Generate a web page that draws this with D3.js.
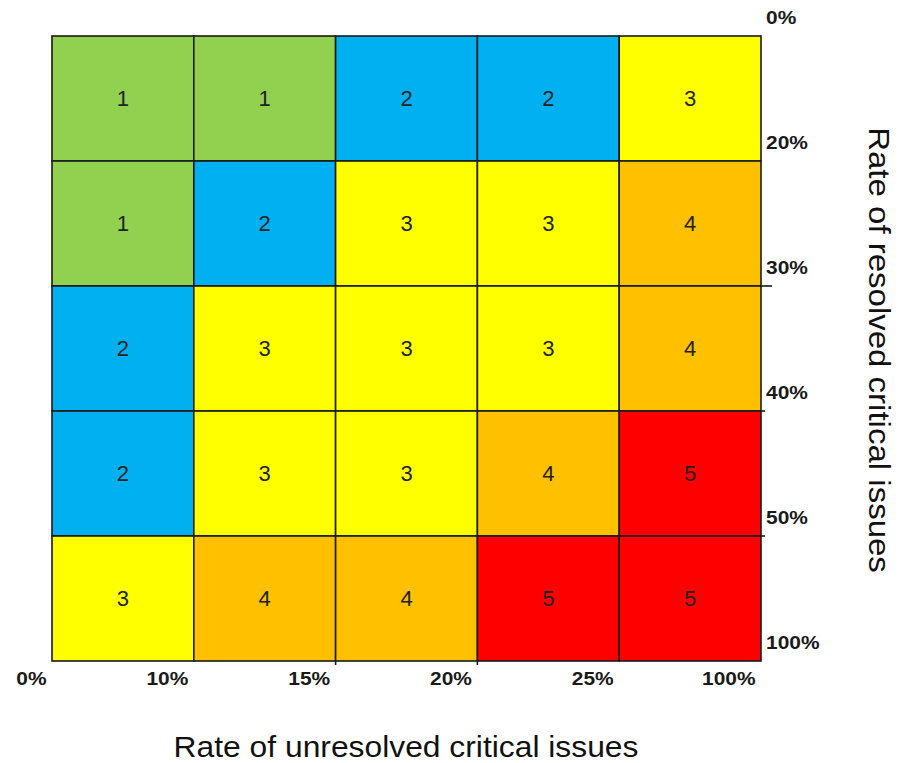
<!DOCTYPE html>
<html>
<head>
<meta charset="utf-8">
<script src="https://cdn.jsdelivr.net/npm/d3@7"></script>
<style>
  body { margin: 0; background: #fff; }
  svg { font-family: Arial, 'Liberation Sans', sans-serif; }
</style>
</head>
<body>
<svg id="chart"></svg>
<script>
// boundaries of the columns (unresolved rate) and rows (resolved rate)
const xBounds = ['0%', '10%', '15%', '20%', '25%', '100%']
const yBounds = ['0%', '20%', '30%', '40%', '50%', '100%']

// risk level per cell, rows top to bottom
const row1 = [1, 1, 2, 2, 3]
const row2 = [1, 2, 3, 3, 4]
const row3 = [2, 3, 3, 3, 4]
const row4 = [2, 3, 3, 4, 5]
const row5 = [3, 4, 4, 5, 5]
const levels = [row1, row2, row3, row4, row5]

const levelKeys = [1, 2, 3, 4, 5]
const levelColors = ['#92D050', '#00B0F0', '#FFFF00', '#FFC000', '#FF0000']

// boundaries that carry a little tick mark outside the grid
const xTicked = ['15%', '20%']
const yTicked = ['30%', '40%', '50%']

const xTitle = 'Rate of unresolved critical issues'
const yTitle = 'Rate of resolved critical issues'

const width = 903, height = 763
const margin = {top: 36, right: 142, bottom: 102, left: 52}

// the reference text looks a bit wider than plain Arial
const stretch = 1.13

const svg = d3.select('#chart')
	.attr('width', width)
	.attr('height', height)

const x = d3.scalePoint()
	.domain(xBounds)
	.range([margin.left, width - margin.right])

const y = d3.scalePoint()
	.domain(yBounds)
	.range([margin.top, height - margin.bottom])

const color = d3.scaleOrdinal()
	.domain(levelKeys)
	.range(levelColors)

function widen(sel, k) {
	sel.each(function() {
		const w = this.getComputedTextLength()
		d3.select(this)
			.attr('textLength', w * k)
			.attr('lengthAdjust', 'spacingAndGlyphs')
	})
}

// flatten the grid into cells
const cells = []
levels.forEach((row, r) => {
	row.forEach((v, c) => {
		cells.push({r: r, c: c, v: v})
	})
})

// small ticks sticking out of the grid
svg.append('g')
	.selectAll('line')
	.data(xTicked)
	.join('line')
		.attr('x1', d => x(d))
		.attr('x2', d => x(d))
		.attr('y1', height - margin.bottom)
		.attr('y2', height - margin.bottom + 4)
		.attr('stroke', '#1a1a1a')
		.attr('stroke-width', 1.6)

svg.append('g')
	.selectAll('line')
	.data(yTicked)
	.join('line')
		.attr('x1', width - margin.right)
		.attr('x2', (d, i) => width - margin.right + (i === 0 ? 11 : 4))
		.attr('y1', d => y(d))
		.attr('y2', d => y(d))
		.attr('stroke', '#1a1a1a')
		.attr('stroke-width', 1.6)

const cellG = svg.append('g')
	.selectAll('g')
	.data(cells)
	.join('g')

cellG.append('rect')
	.attr('x', d => x(xBounds[d.c]))
	.attr('y', d => y(yBounds[d.r]))
	.attr('width', d => x(xBounds[d.c + 1]) - x(xBounds[d.c]))
	.attr('height', d => y(yBounds[d.r + 1]) - y(yBounds[d.r]))
	.attr('fill', d => color(d.v))
	.attr('stroke', '#1a1a1a')
	.attr('stroke-width', 1.6)

cellG.append('text')
	.attr('x', d => (x(xBounds[d.c]) + x(xBounds[d.c + 1])) / 2)
	.attr('y', d => (y(yBounds[d.r]) + y(yBounds[d.r + 1])) / 2)
	.attr('dy', '0.36em')
	.attr('text-anchor', 'middle')
	.attr('font-size', 22)
	.attr('fill', '#222')
	.text(d => d.v)

// bottom axis: labels sit left of each boundary
const xAxis = svg.append('g')
	.attr('transform', 'translate(0,' + (height - margin.bottom) + ')')
	.call(d3.axisBottom(x).tickSize(0).tickPadding(0))
xAxis.select('.domain').remove()
xAxis.selectAll('text')
	.attr('text-anchor', 'end')
	.attr('dx', -6)
	.attr('dy', 0)
	.attr('y', 24)
	.attr('font-size', 18.5)
	.attr('font-weight', 'bold')
	.attr('font-family', 'Arial, Liberation Sans, sans-serif')
	.attr('fill', '#1a1a1a')
	.call(widen, stretch)

// right axis: labels sit above each boundary
const yAxis = svg.append('g')
	.attr('transform', 'translate(' + (width - margin.right) + ',0)')
	.call(d3.axisRight(y).tickSize(0).tickPadding(0))
yAxis.select('.domain').remove()
yAxis.selectAll('text')
	.attr('text-anchor', 'start')
	.attr('x', 5)
	.attr('dy', -13)
	.attr('font-size', 18.5)
	.attr('font-weight', 'bold')
	.attr('font-family', 'Arial, Liberation Sans, sans-serif')
	.attr('fill', '#1a1a1a')
	.call(widen, stretch)

// axis titles
svg.append('text')
	.attr('x', 406)
	.attr('y', 757)
	.attr('text-anchor', 'middle')
	.attr('font-size', 30)
	.attr('fill', '#111')
	.text(xTitle)
	.call(widen, 1.06)

svg.append('text')
	.attr('transform', 'translate(869,350) rotate(90)')
	.attr('text-anchor', 'middle')
	.attr('font-size', 30)
	.attr('fill', '#111')
	.text(yTitle)
	.call(widen, 1.1)
</script>
</body>
</html>
